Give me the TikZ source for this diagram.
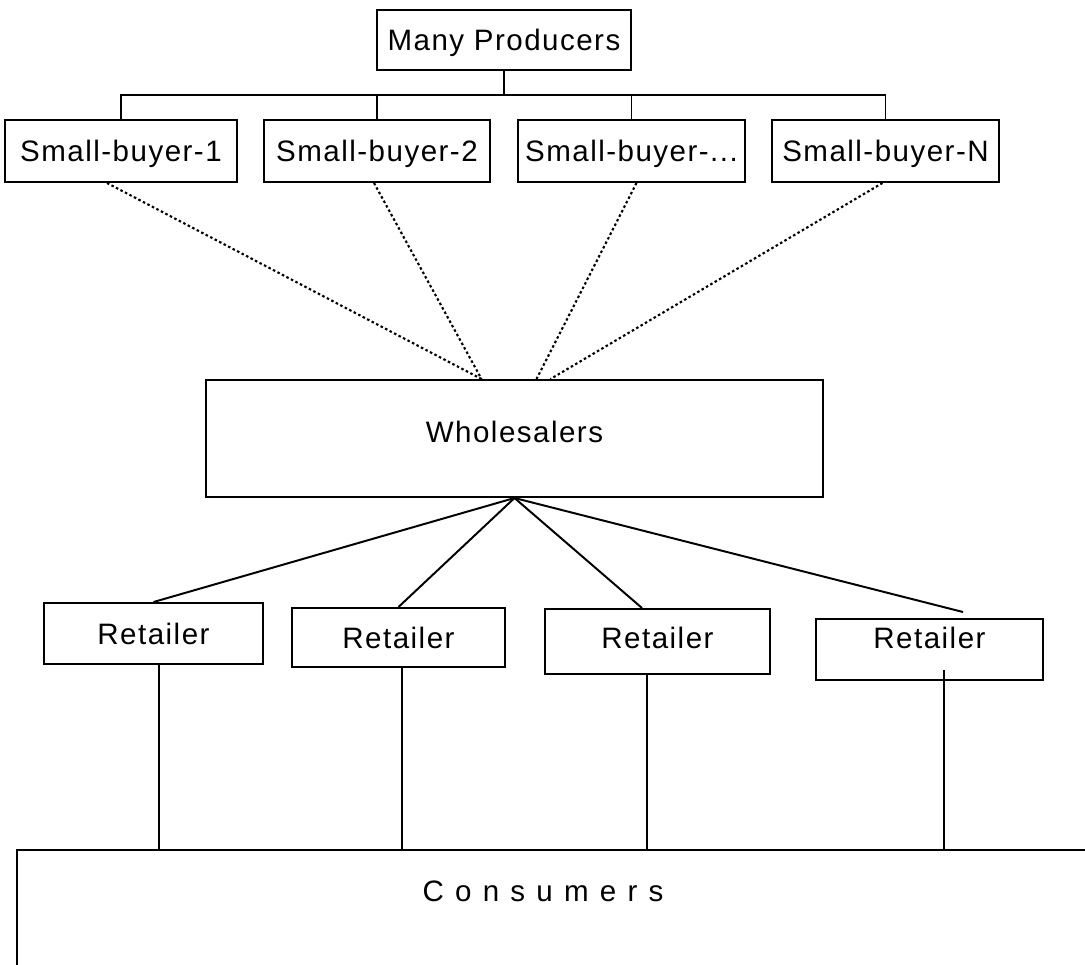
\documentclass[tikz,border=0pt]{standalone}
\usepackage{fontspec}
\setmainfont{Liberation Sans}[LetterSpace=5]
\usetikzlibrary{calc}

\begin{document}
\begin{tikzpicture}[
    x=0.025cm, y=-0.025cm,
    box/.style={draw, line width=1.4pt, inner sep=0pt, text height=15pt, text depth=0pt,
        font=\fontsize{21}{25}\selectfont},
    link/.style={line width=1.4pt},
    feed/.style={line width=1.5pt, dash pattern=on 1.8pt off 1.8pt}
]
\useasboundingbox (0,0) rectangle (1085,965);

% Producers and small buyers
\node[box, minimum width=6.35cm, minimum height=1.5cm] (prod) at (504,40) {Many Producers};
\node[box, minimum width=5.8cm, minimum height=1.55cm] (sb1) at (121,151) {Small-buyer-1};
\node[box, minimum width=5.65cm, minimum height=1.55cm] (sb2) at (377,151) {Small-buyer-2};
\node[box, minimum width=5.675cm, minimum height=1.55cm] (sb3) at (631.5,151) {Small-buyer-...};
\node[box, minimum width=5.675cm, minimum height=1.55cm] (sbN) at (885.5,151) {Small-buyer-N};

% Tree from producers
\coordinate (bus) at (504,95);
\draw[link] (prod.south) -- (bus);
\draw[link] (sb1.north) -- (sb1.north |- bus) -- (sbN.north |- bus) -- (sbN.north);
\foreach \b in {sb2,sb3} {
    \draw[link] (\b.north) -- (\b.north |- bus);
}

% Wholesalers
\node[box, minimum width=15.425cm, minimum height=2.925cm, text depth=9pt] (whole) at (514.5,438.5) {Wholesalers};

% Dotted feeds
\draw[feed] ($(sb1.south)+(-14,0)$) -- ($(whole.north)+(-33,0)$);
\draw[feed] ($(sb2.south)+(-3,0)$) -- ($(whole.north)+(-33,0)$);
\draw[feed] ($(sb3.south)+(5,0)$) -- ($(whole.north)+(22,0)$);
\draw[feed] ($(sbN.south)+(-3,0)$) -- ($(whole.north)+(36,0)$);

% Retailers
\node[box, minimum width=5.475cm, minimum height=1.525cm] (r1) at (153.5,633.5) {Retailer};
\node[box, minimum width=5.325cm, minimum height=1.475cm] (r2) at (398.5,637.5) {Retailer};
\node[box, minimum width=5.625cm, minimum height=1.625cm, text depth=5pt] (r3) at (657.5,641.5) {Retailer};
\node[box, minimum width=5.675cm, minimum height=1.525cm, text depth=17pt] (r4) at (929.5,649.5) {Retailer};

\draw[link] (whole.south) -- (r1.north);
\draw[link] (whole.south) -- (r2.north);
\draw[link] (whole.south) -- ($(r3.north)+(-15.5,0)$);
\draw[link] (whole.south) -- ($(r4.north)+(33.5,-6)$);

% Consumers
\coordinate (cons) at (17,850);
\coordinate (consR) at (1085,850);
\coordinate (consB) at (17,965);
\draw[link] (consR) -- (cons) -- (consB);
\node[font=\fontsize{21}{25}\selectfont\addfontfeature{LetterSpace=38}, text height=15pt, text depth=0pt, inner sep=0pt] (conslabel) at (543,891) {Consumers};

\foreach \r/\dx/\dy in {r1/5.5/0, r2/3.5/0, r3/-10.5/0, r4/14.5/-11} {
    \coordinate (\r-drop) at ($(\r.south)+(\dx,\dy)$);
    \draw[link] (\r-drop) -- (\r-drop |- cons);
}

\end{tikzpicture}
\end{document}
